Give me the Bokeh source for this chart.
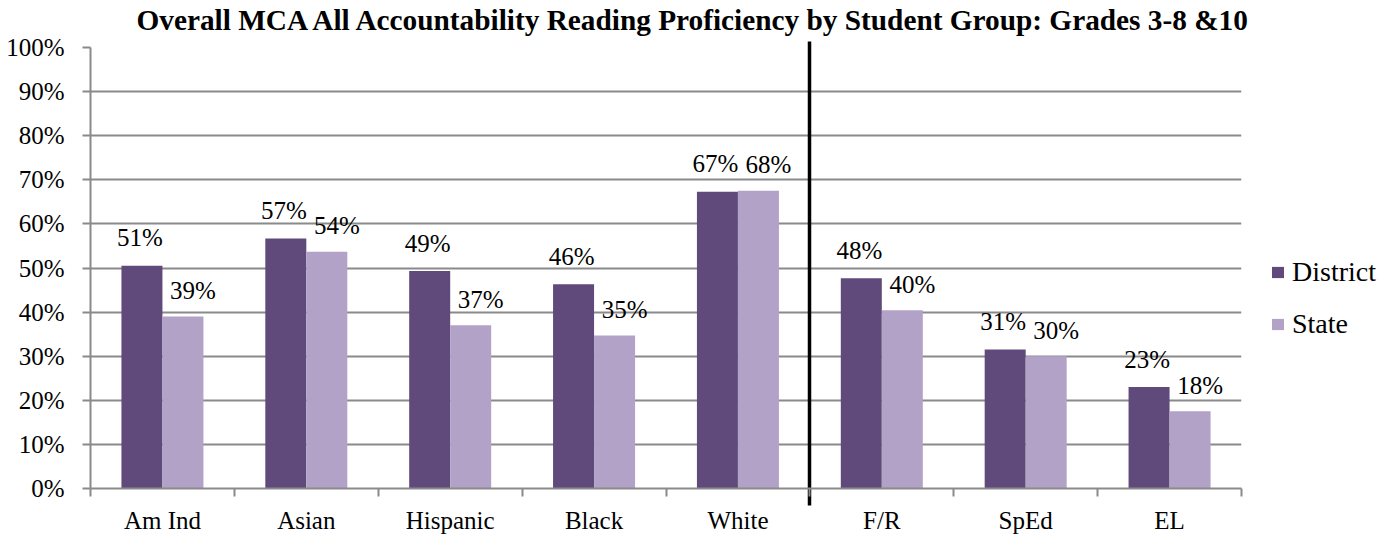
import numpy as np
from bokeh.plotting import figure
from bokeh.models import (Range1d, FixedTicker, NumeralTickFormatter, Legend, LegendItem,
                          LinearAxis, ColumnDataSource, Title)
from bokeh.core.properties import value
from bokeh.embed import file_html
from bokeh.resources import INLINE

# ---------------- data ----------------
title_text = "Overall MCA All Accountability Reading Proficiency by Student Group: Grades 3-8 &10"
groups = ["Am Ind", "Asian", "Hispanic", "Black", "White", "F/R", "SpEd", "EL"]
district = [0.505, 0.567, 0.493, 0.463, 0.673, 0.477, 0.315, 0.230]
state = [0.390, 0.537, 0.370, 0.347, 0.675, 0.404, 0.300, 0.175]
district_labels = ["51%", "57%", "49%", "46%", "67%", "48%", "31%", "23%"]
state_labels = ["39%", "54%", "37%", "35%", "68%", "40%", "30%", "18%"]
y_ticks = [0.0, 0.1, 0.2, 0.3, 0.4, 0.5, 0.6, 0.7, 0.8, 0.9, 1.0]
series_names = ["District", "State"]
n_race_groups = 5  # divider drawn after the race/ethnicity groups

# ---------------- style ----------------
FONT = "Liberation Serif"
C_DIST = "#604A7B"
C_STATE = "#B3A2C7"
GRID = "#8A8A8A"
BAR_W = 0.285
FRAME_H = 441

n = len(groups)
idx = np.arange(n)
x_d = idx + 0.5 - BAR_W / 2
x_s = idx + 0.5 + BAR_W / 2

src_d = ColumnDataSource(dict(x=x_d, top=district, lab=district_labels))
src_s = ColumnDataSource(dict(x=x_s, top=state, lab=state_labels))

p = figure(frame_width=1151, frame_height=FRAME_H, output_backend="svg", toolbar_location=None,
           x_range=Range1d(0, n), y_range=Range1d(0, 1.0),
           min_border_left=90, min_border_right=150, min_border_top=40, min_border_bottom=30)
p.outline_line_color = None
p.background_fill_color = "white"
p.border_fill_color = "white"

p.title = Title(text=title_text, align="left", offset=46, vertical_align="top", standoff=7,
                text_font=FONT, text_font_style="bold", text_font_size="29.3px", text_color="black")

r1 = p.vbar(x="x", top="top", width=BAR_W, bottom=0, source=src_d, fill_color=C_DIST, line_color=None)
r2 = p.vbar(x="x", top="top", width=BAR_W, bottom=0, source=src_s, fill_color=C_STATE, line_color=None)

p.text(x="x", y="top", text="lab", source=src_d, text_font=value(FONT), text_font_size="25px",
       text_align="center", text_baseline="middle", y_offset=-28, x_offset=-2, text_color="black")
p.text(x="x", y="top", text="lab", source=src_s, text_font=value(FONT), text_font_size="25px",
       text_align="center", text_baseline="middle", y_offset=-26, x_offset=10, text_color="black")

# y axis
p.yaxis.ticker = FixedTicker(ticks=y_ticks)
p.yaxis.formatter = NumeralTickFormatter(format="0%")
p.yaxis.major_label_text_font = FONT
p.yaxis.major_label_text_font_size = "25px"
p.yaxis.major_label_text_color = "black"
p.yaxis.axis_line_color = GRID
p.yaxis.axis_line_width = 2
p.yaxis.major_tick_line_color = GRID
p.yaxis.major_tick_line_width = 2
p.yaxis.major_tick_out = 8
p.yaxis.major_tick_in = 0
p.yaxis.minor_tick_line_color = None
p.yaxis.major_label_standoff = 18

# x axis: labels at centres, tick marks at category boundaries
p.xaxis.ticker = FixedTicker(ticks=list(idx + 0.5), minor_ticks=list(range(n + 1)))
p.xaxis.major_label_overrides = {float(i + 0.5): g for i, g in enumerate(groups)}
p.xaxis.major_label_text_font = FONT
p.xaxis.major_label_text_font_size = "25px"
p.xaxis.major_label_text_color = "black"
p.xaxis.axis_line_color = GRID
p.xaxis.axis_line_width = 2
p.xaxis.major_tick_out = 0
p.xaxis.major_tick_in = 0
p.xaxis.minor_tick_line_color = GRID
p.xaxis.minor_tick_line_width = 2
p.xaxis.minor_tick_out = 8
p.xaxis.minor_tick_in = 0
p.xaxis.major_label_standoff = 10

p.xgrid.grid_line_color = None
p.ygrid.ticker = FixedTicker(ticks=y_ticks)
p.ygrid.grid_line_color = GRID
p.ygrid.grid_line_width = 2

# divider between race groups and program groups: a long tick of an unlabeled top axis
divider = LinearAxis(ticker=FixedTicker(ticks=[n_race_groups], minor_ticks=[]),
                     major_tick_out=6, major_tick_in=FRAME_H + 17,
                     major_tick_line_color="black", major_tick_line_width=3.5,
                     axis_line_color=None, minor_tick_line_color=None,
                     major_label_text_font_size="0px", major_label_standoff=0,
                     major_label_overrides={n_race_groups: ""})
p.add_layout(divider, "above")

legend = Legend(items=[LegendItem(label=series_names[0], renderers=[r1]),
                       LegendItem(label=series_names[1], renderers=[r2])],
                location=(29, 148), orientation="vertical", border_line_color=None,
                background_fill_alpha=0, glyph_width=15, glyph_height=14, label_standoff=7,
                label_text_font=FONT, label_text_font_size="28px", label_text_color="black",
                spacing=20, padding=0, margin=0)
p.add_layout(legend, "right")

open("out.html", "w").write(file_html(p, INLINE))
